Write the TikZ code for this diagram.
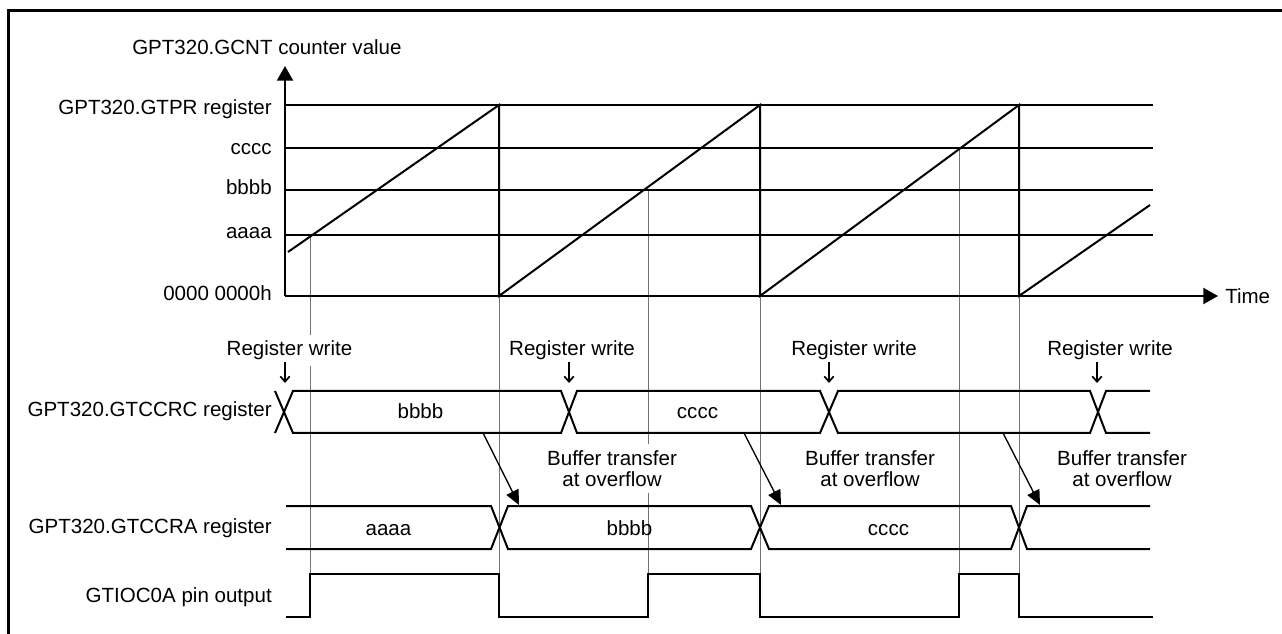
\documentclass[tikz,border=0pt]{standalone}
\usepackage{fontspec}
\setmainfont{Liberation Sans}
\usetikzlibrary{arrows.meta}
\begin{document}
\begin{tikzpicture}[x=0.75pt,y=-0.75pt,
  lbl/.style={font=\fontsize{15.4}{16.5}\selectfont, inner sep=0pt},
  wlbl/.style={font=\fontsize{15.4}{16.5}\selectfont, fill=white, align=center, inner xsep=2pt, inner ysep=4.5pt},
  main/.style={line width=1.5pt, line join=miter},
  guide/.style={line width=0.75pt, draw=black!55},
  axis/.style={line width=1.5pt, -{Triangle[length=11pt,width=12pt]}},
  xfer/.style={line width=1pt, -{Triangle[length=11pt,width=10pt]}},
  wr/.style={line width=1.3pt, -{Straight Barb[length=4pt,width=7pt]}},
]
\useasboundingbox (0,0) rectangle (1282,634);
% frame
\draw[line width=2.4pt] (8.5,634) -- (8.5,10.5) -- (1282,10.5);

% guide lines
\coordinate (g1t) at (310,235);  \coordinate (g1b) at (310,574);
\coordinate (g2t) at (499,296);  \coordinate (g2b) at (499,574);
\coordinate (g3t) at (648,190);  \coordinate (g3b) at (648,574);
\coordinate (g4t) at (760,296);  \coordinate (g4b) at (760,574);
\coordinate (g5t) at (959,148);  \coordinate (g5b) at (959,574);
\coordinate (g6t) at (1019,296); \coordinate (g6b) at (1019,574);
\foreach \i in {1,...,6} \draw[guide] (g\i t) -- (g\i b);

% axes
\coordinate (O) at (285,296);
\coordinate (Ytop) at (285,66);
\coordinate (Tend) at (1218,296);
\draw[axis] (O) -- (Ytop);
\draw[axis] (O) -- (Tend);

% level lines
\foreach \y in {105,148,190,235} \draw[main] (285,\y) -- (1153,\y);

% counter ramps
\draw[main] (288,252) -- (499,105) -- (499,296) -- (760,105) -- (760,296)
  -- (1019,105) -- (1019,296) -- (1150,205);

% axis labels
\node[lbl, anchor=base west] (ylab) at (132,55) {GPT320.GCNT counter value};
\node[lbl, anchor=base east] (lgtpr) at (272,115) {GPT320.GTPR register};
\node[lbl, anchor=base east] (lc) at (272,155) {cccc};
\node[lbl, anchor=base east] (lb) at (272,195) {bbbb};
\node[lbl, anchor=base east] (la) at (272,239) {aaaa};
\node[lbl, anchor=base east] (l0) at (272,301) {0000 0000h};
\node[lbl, anchor=base west] (ltime) at (1225,304) {Time};

% GTCCRC bus
\draw[main] (275,433) -- (293,391) -- (561,391) -- (577,433) -- (820,433)
  -- (838,391) -- (1090,391) -- (1106,433) -- (1150,433);
\draw[main] (275,391) -- (293,433) -- (561,433) -- (577,391) -- (820,391)
  -- (838,433) -- (1090,433) -- (1106,391) -- (1150,391);
% GTCCRA bus
\draw[main] (286,506) -- (491,506) -- (508,549) -- (751,549) -- (769,506)
  -- (1011,506) -- (1027,549) -- (1150,549);
\draw[main] (286,549) -- (491,549) -- (508,506) -- (751,506) -- (769,549)
  -- (1011,549) -- (1027,506) -- (1150,506);
% pin output
\draw[main] (286,617) -- (310,617) -- (310,574) -- (499,574) -- (499,617)
  -- (648,617) -- (648,574) -- (760,574) -- (760,617) -- (959,617)
  -- (959,574) -- (1019,574) -- (1019,617) -- (1153,617);

% row labels
\node[lbl, anchor=base east] (lrc) at (272,417) {GPT320.GTCCRC register};
\node[lbl, anchor=base east] (lra) at (272,533) {GPT320.GTCCRA register};
\node[lbl, anchor=base east] (lpin) at (272,602) {GTIOC0A pin output};

% bus values
\node[lbl, anchor=base] (vc1) at (420.5,419) {bbbb};
\node[lbl, anchor=base] (vc2) at (697.5,419) {cccc};
\node[lbl, anchor=base] (va1) at (388.5,536) {aaaa};
\node[lbl, anchor=base] (va2) at (629.5,536) {bbbb};
\node[lbl, anchor=base] (va3) at (888.5,536) {cccc};

% register write labels and arrows
\node[wlbl, anchor=base] (rw1) at (289.5,356) {Register write};
\node[wlbl, anchor=base] (rw2) at (572,356) {Register write};
\node[wlbl, anchor=base] (rw3) at (854,356) {Register write};
\node[wlbl, anchor=base] (rw4) at (1110,356) {Register write};
\coordinate (w1s) at (285,362);  \coordinate (w1e) at (285,383);
\coordinate (w2s) at (569,362);  \coordinate (w2e) at (569,383);
\coordinate (w3s) at (829,362);  \coordinate (w3e) at (829,383);
\coordinate (w4s) at (1097,362); \coordinate (w4e) at (1097,383);
\foreach \i in {1,...,4} \draw[wr] (w\i s) -- (w\i e);

% buffer transfer labels and arrows
\node[wlbl, anchor=base] (bt1) at (612,487) {Buffer transfer\\at overflow};
\node[wlbl, anchor=base] (bt2) at (870,487) {Buffer transfer\\at overflow};
\node[wlbl, anchor=base] (bt3) at (1122,487) {Buffer transfer\\at overflow};
\coordinate (b1s) at (483,433);  \coordinate (b1e) at (519,505);
\coordinate (b2s) at (744,433);  \coordinate (b2e) at (781,505);
\coordinate (b3s) at (1003,433); \coordinate (b3e) at (1040,505);
\foreach \i in {1,2,3} \draw[xfer] (b\i s) -- (b\i e);
\end{tikzpicture}
\end{document}
